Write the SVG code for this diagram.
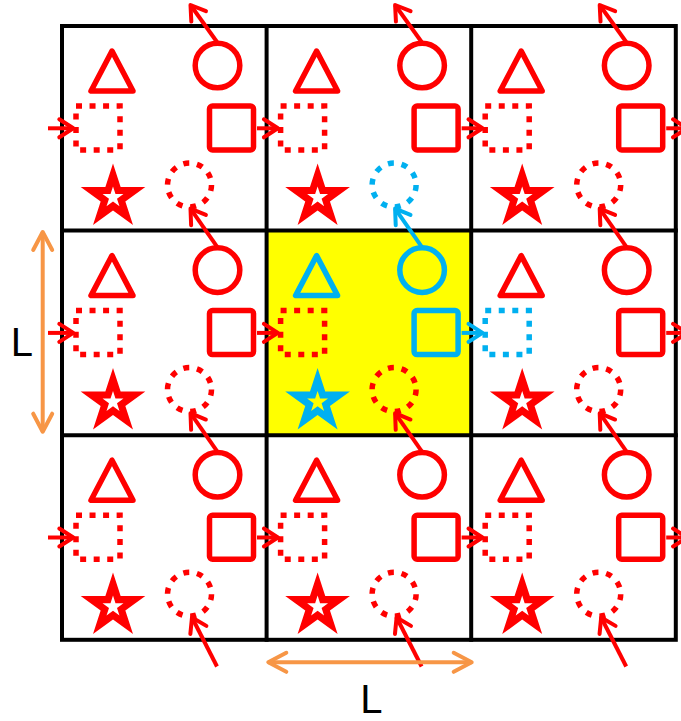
<svg xmlns="http://www.w3.org/2000/svg" xmlns:xlink="http://www.w3.org/1999/xlink" width="681" height="721" viewBox="0 0 681 721">
<style>
.r{stroke:#FF0000}
.b{stroke:#00B0F0}
.sh{fill:none;stroke-width:5.5;stroke-linejoin:round}
.dr{fill:none;stroke-width:5.5;stroke-dasharray:6 7.54}
.dc{fill:none;stroke-width:5.5;stroke-dasharray:6 7.82}
.sr{fill:#FF0000}
.sb{fill:#00B0F0}
.grid{fill:none;stroke:#000;stroke-width:4;stroke-linecap:square}
.ar{stroke-width:4;fill:none}
.arr{marker-end:url(#mr)}
.arb{marker-end:url(#mb)}
.or{stroke:#F79646;stroke-width:4;fill:none;marker-start:url(#mo);marker-end:url(#mo)}
.lbl{font-family:"Liberation Sans",Arial,sans-serif;font-size:40px;fill:#000}
</style>
<defs>
<marker id="mr" markerUnits="userSpaceOnUse" viewBox="-20 -15 30 30" markerWidth="30" markerHeight="30" refX="0" refY="0" orient="auto" overflow="visible">
<path d="M-14,-9 L0,0 L-14,9" fill="none" stroke="#FF0000" stroke-width="4" stroke-linecap="round" stroke-linejoin="round"/>
</marker>
<marker id="mb" markerUnits="userSpaceOnUse" viewBox="-20 -15 30 30" markerWidth="30" markerHeight="30" refX="0" refY="0" orient="auto" overflow="visible">
<path d="M-14,-9 L0,0 L-14,9" fill="none" stroke="#00B0F0" stroke-width="4" stroke-linecap="round" stroke-linejoin="round"/>
</marker>
<marker id="mo" markerUnits="userSpaceOnUse" viewBox="-25 -15 30 30" markerWidth="30" markerHeight="30" refX="0" refY="0" orient="auto-start-reverse" overflow="visible">
<path d="M-18,-9.5 L0,0 L-18,9.5" fill="none" stroke="#F79646" stroke-width="4" stroke-linecap="round" stroke-linejoin="round"/>
</marker>
<path id="star" fill-rule="evenodd" d="M0,-34 L7.64,-10.51 L32.34,-10.51 L12.35,4.01 L19.99,27.51 L0,12.99 L-19.99,27.51 L-12.35,4.01 L-32.34,-10.51 L-7.64,-10.51 Z M0,-11 L2.47,-3.4 L10.46,-3.4 L4,1.3 L6.47,8.9 L0,4.2 L-6.47,8.9 L-4,1.3 L-10.46,-3.4 L-2.47,-3.4 Z"/>
<polygon id="tri" points="50,25 29,65 71,65"/>
<circle id="circ" cx="155.5" cy="39.5" r="22.3"/>
<rect id="sq" x="147.5" y="80" width="44" height="44" rx="3"/>
<rect id="dsq" x="14" y="80" width="44" height="44"/>
<circle id="dcirc" cx="127.5" cy="159" r="22"/>
</defs>

<rect x="266.6" y="230.6" width="204.6" height="204.6" fill="#FFFF00"/>

<g id="cell-r1c1" transform="translate(62,26)">
<use href="#tri" class="sh r"/><use href="#circ" class="sh r"/><use href="#sq" class="sh r"/>
<use href="#dsq" class="dr r"/><use href="#dcirc" class="dc r"/><use href="#star" class="sr" x="51" y="171.4"/>
</g>
<g id="cell-r1c2" transform="translate(266.6,26)">
<use href="#tri" class="sh r"/><use href="#circ" class="sh r"/><use href="#sq" class="sh r"/>
<use href="#dsq" class="dr r"/><use href="#dcirc" class="dc b"/><use href="#star" class="sr" x="51" y="171.4"/>
</g>
<g id="cell-r1c3" transform="translate(471.2,26)">
<use href="#tri" class="sh r"/><use href="#circ" class="sh r"/><use href="#sq" class="sh r"/>
<use href="#dsq" class="dr r"/><use href="#dcirc" class="dc r"/><use href="#star" class="sr" x="51" y="171.4"/>
</g>
<g id="cell-r2c1" transform="translate(62,230.6)">
<use href="#tri" class="sh r"/><use href="#circ" class="sh r"/><use href="#sq" class="sh r"/>
<use href="#dsq" class="dr r"/><use href="#dcirc" class="dc r"/><use href="#star" class="sr" x="51" y="171.4"/>
</g>
<g id="cell-r2c2" transform="translate(266.6,230.6)">
<use href="#tri" class="sh b"/><use href="#circ" class="sh b"/><use href="#sq" class="sh b"/>
<use href="#dsq" class="dr r"/><use href="#dcirc" class="dc r"/><use href="#star" class="sb" x="51" y="171.4"/>
</g>
<g id="cell-r2c3" transform="translate(471.2,230.6)">
<use href="#tri" class="sh r"/><use href="#circ" class="sh r"/><use href="#sq" class="sh r"/>
<use href="#dsq" class="dr b"/><use href="#dcirc" class="dc r"/><use href="#star" class="sr" x="51" y="171.4"/>
</g>
<g id="cell-r3c1" transform="translate(62,435.2)">
<use href="#tri" class="sh r"/><use href="#circ" class="sh r"/><use href="#sq" class="sh r"/>
<use href="#dsq" class="dr r"/><use href="#dcirc" class="dc r"/><use href="#star" class="sr" x="51" y="171.4"/>
</g>
<g id="cell-r3c2" transform="translate(266.6,435.2)">
<use href="#tri" class="sh r"/><use href="#circ" class="sh r"/><use href="#sq" class="sh r"/>
<use href="#dsq" class="dr r"/><use href="#dcirc" class="dc r"/><use href="#star" class="sr" x="51" y="171.4"/>
</g>
<g id="cell-r3c3" transform="translate(471.2,435.2)">
<use href="#tri" class="sh r"/><use href="#circ" class="sh r"/><use href="#sq" class="sh r"/>
<use href="#dsq" class="dr r"/><use href="#dcirc" class="dc r"/><use href="#star" class="sr" x="51" y="171.4"/>
</g>

<g id="grid">
<rect class="grid" x="62" y="26" width="613.8" height="613.8"/>
<line class="grid" x1="266.6" y1="26" x2="266.6" y2="639.8"/>
<line class="grid" x1="471.2" y1="26" x2="471.2" y2="639.8"/>
<line class="grid" x1="62" y1="230.6" x2="675.8" y2="230.6"/>
<line class="grid" x1="62" y1="435.2" x2="675.8" y2="435.2"/>
</g>

<g id="connectors">
<line class="ar r arr" x1="48" y1="128.3" x2="73.3" y2="128.3"/>
<line class="ar r arr" x1="257" y1="128.3" x2="277.9" y2="128.3"/>
<line class="ar r arr" x1="461.6" y1="128.3" x2="482.5" y2="128.3"/>
<line class="ar r arr" x1="666.2" y1="128.3" x2="687.1" y2="128.3"/>
<line class="ar r arr" x1="48" y1="332.9" x2="73.3" y2="332.9"/>
<line class="ar r arr" x1="257" y1="332.9" x2="277.9" y2="332.9"/>
<line class="ar b arb" x1="461.6" y1="332.9" x2="482.5" y2="332.9"/>
<line class="ar r arr" x1="666.2" y1="332.9" x2="687.1" y2="332.9"/>
<line class="ar r arr" x1="48" y1="537.5" x2="73.3" y2="537.5"/>
<line class="ar r arr" x1="257" y1="537.5" x2="277.9" y2="537.5"/>
<line class="ar r arr" x1="461.6" y1="537.5" x2="482.5" y2="537.5"/>
<line class="ar r arr" x1="666.2" y1="537.5" x2="687.1" y2="537.5"/>
<line class="ar r arr" x1="217" y1="42" x2="190.5" y2="5"/>
<line class="ar r arr" x1="421.6" y1="42" x2="395.1" y2="5"/>
<line class="ar r arr" x1="626.2" y1="42" x2="599.7" y2="5"/>
<line class="ar r arr" x1="217" y1="246.6" x2="190.5" y2="208.6"/>
<line class="ar b arb" x1="421.6" y1="246.6" x2="395.1" y2="208.6"/>
<line class="ar r arr" x1="626.2" y1="246.6" x2="599.7" y2="208.6"/>
<line class="ar r arr" x1="217" y1="451.2" x2="190.5" y2="413.2"/>
<line class="ar r arr" x1="421.6" y1="451.2" x2="395.1" y2="413.2"/>
<line class="ar r arr" x1="626.2" y1="451.2" x2="599.7" y2="413.2"/>
<line class="ar r arr" x1="217" y1="666.5" x2="192" y2="617.5"/>
<line class="ar r arr" x1="421.6" y1="666.5" x2="396.6" y2="617.5"/>
<line class="ar r arr" x1="626.2" y1="666.5" x2="601.2" y2="617.5"/>
<line class="or" x1="42.7" y1="232" x2="42.7" y2="431.7"/>
<line class="or" x1="268.3" y1="662.3" x2="471.7" y2="662.3"/>
</g>

<text class="lbl" x="10.8" y="356">L</text>
<text class="lbl" x="360.2" y="712.5">L</text>
</svg>
